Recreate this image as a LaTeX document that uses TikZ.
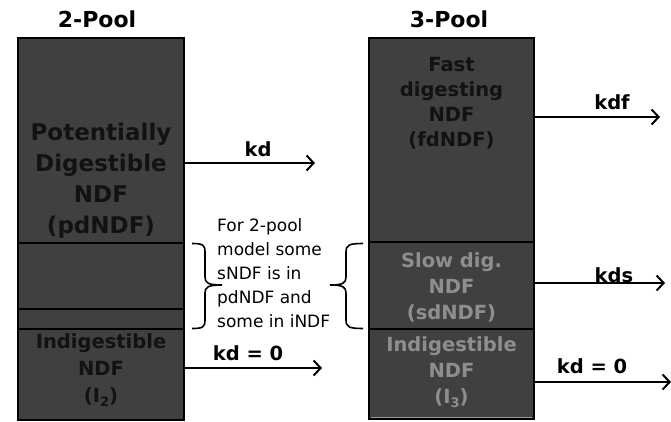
\documentclass[tikz,border=0pt]{standalone}
\usepackage{fontspec}
\setmainfont{DejaVu Sans}
\usetikzlibrary{arrows.meta,calc}
\definecolor{poolfill}{HTML}{404040}
\definecolor{darktext}{HTML}{121212}
\definecolor{greytext}{HTML}{8E8E8E}
\definecolor{bottomgrey}{HTML}{9A9A9A}
\newcommand{\subtwo}[1]{{\fontsize{13}{13}\selectfont\raisebox{-4pt}{#1}}}
\tikzset{
  leftsect/.style={draw=black, line width=2pt, fill=poolfill, minimum width=166pt, inner sep=0pt, outer sep=0pt},
  rightsect/.style={draw=black, line width=1.2pt, fill=poolfill, minimum width=165pt, inner sep=0pt, outer sep=0pt},
  bigbold/.style={font=\fontsize{23}{31}\selectfont\bfseries, align=center, text=darktext, inner sep=0pt},
  midbold/.style={font=\fontsize{19.5}{27}\selectfont\bfseries, align=center, inner sep=0pt},
  title/.style={font=\fontsize{22}{26}\selectfont\bfseries, anchor=base, inner sep=0pt},
  ratelabel/.style={font=\fontsize{19.5}{24}\selectfont\bfseries, anchor=base, inner sep=0pt},
  note/.style={font=\fontsize{17}{24}\selectfont, align=left, anchor=west, inner sep=0pt},
  flow/.style={line width=2pt, -{Straight Barb[length=7pt,width=15pt]}},
  bracestyle/.style={line width=1.6pt},
}
\begin{document}
\begin{tikzpicture}[x=1pt,y=-1pt]
\useasboundingbox (0,0) rectangle (671,422);
% titles
\node[title] (t2) at (97,27.5) {2-Pool};
\node[title] (t3) at (449,27.5) {3-Pool};
% left column
\node[leftsect, minimum height=205pt] (L1) at (101,140.5) {};
\node[leftsect, minimum height=66pt] (L2) at (101,276) {};
\node[leftsect, minimum height=20pt] (L3) at (101,319) {};
\node[leftsect, minimum height=91pt] (L4) at (101,374.5) {};
\node[bigbold] (pdtxt) at (101,181) {Potentially\\Digestible\\NDF\\(pdNDF)};
\node[midbold, text=darktext] (i2txt) at (101,370) {Indigestible\\NDF\\(I\subtwo{2})};
% right column
\node[rightsect, minimum height=204pt] (R1) at (451.5,140) {};
\node[rightsect, minimum height=87pt] (R2) at (451.5,285.5) {};
\node[rightsect, minimum height=90pt] (R3) at (451.5,374) {};
\draw[bottomgrey, line width=1.6pt] ($(R3.south west)+(2,-1.5)$) -- ($(R3.south east)+(-2,-1.5)$);
\node[midbold, font=\fontsize{19.5}{25}\selectfont\bfseries, text=darktext] (fdtxt) at (451.5,103) {Fast\\digesting\\NDF\\(fdNDF)};
\node[midbold, font=\fontsize{19.5}{26}\selectfont\bfseries, text=greytext] (sdtxt) at (451.5,287) {Slow dig.\\NDF\\(sdNDF)};
\node[midbold, font=\fontsize{19.5}{26}\selectfont\bfseries, text=greytext] (i3txt) at (451.5,372) {Indigestible\\NDF\\(I\subtwo{3})};
% arrows
\coordinate (kdE) at (315,163);
\coordinate (kd0E) at (322,368);
\coordinate (kdfE) at (660,117);
\coordinate (kdsE) at (665,283);
\coordinate (kd0rE) at (671,382);
\draw[flow] (L1.east |- kdE) -- (kdE);
\draw[flow] (L4.east |- kd0E) -- (kd0E);
\draw[flow] (R1.east |- kdfE) -- (kdfE);
\draw[flow] (R2.east |- kdsE) -- (kdsE);
\draw[flow] (R3.east |- kd0rE) -- (kd0rE);
\node[ratelabel] (kdl) at (258,157) {kd};
\node[ratelabel] (kd0l) at (248,360) {kd = 0};
\node[ratelabel] (kdfl) at (612,110) {kdf};
\node[ratelabel] (kdsl) at (614,282) {kds};
\node[ratelabel] (kd0rl) at (592,373) {kd = 0};
% braces
\draw[bracestyle] (192,243.5) .. controls (203,243.5) and (205,245) .. (205,252) -- (205,277) .. controls (205,283) and (208,285) .. (222,285) .. controls (208,285) and (205,287) .. (205,293) -- (205,320) .. controls (205,327) and (203,328.5) .. (192,328.5);
\draw[bracestyle] (363,243.5) .. controls (349,243.5) and (346,245) .. (346,252) -- (346,277) .. controls (346,283) and (343,285) .. (330,285) .. controls (343,285) and (346,287) .. (346,293) -- (346,320) .. controls (346,327) and (349,328.5) .. (363,328.5);
\node[note] (notetxt) at (217,273) {For 2-pool\\model some\\sNDF is in\\pdNDF and\\some in iNDF};
\end{tikzpicture}
\end{document}
